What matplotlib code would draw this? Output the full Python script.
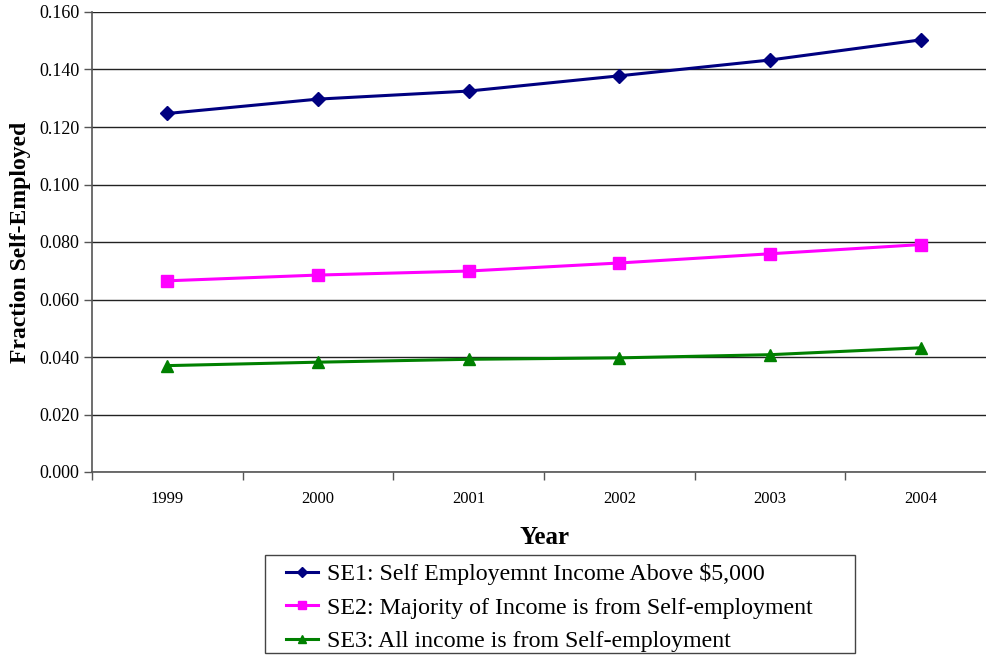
import matplotlib
matplotlib.use("Agg")
import matplotlib.pyplot as plt
import numpy as np
from matplotlib.ticker import FormatStrFormatter, FixedLocator
from matplotlib.patches import Rectangle

plt.rcParams['font.family'] = ['Liberation Serif', 'DejaVu Serif']

years = ["1999", "2000", "2001", "2002", "2003", "2004"]
se1 = [0.1247, 0.1297, 0.1325, 0.1378, 0.1433, 0.1503]
se2 = [0.0665, 0.0685, 0.0699, 0.0727, 0.0759, 0.0791]
se3 = [0.0370, 0.0382, 0.0392, 0.0397, 0.0408, 0.0432]
labels = ["SE1: Self Employemnt Income Above $5,000",
          "SE2: Majority of Income is from Self-employment",
          "SE3: All income is from Self-employment"]

fig = plt.figure(figsize=(9.87, 6.55), dpi=100)
W, H = 987, 655
left, right, top, bottom = 92, 996, 12, 472
ax = fig.add_axes([left / W, 1 - bottom / H, (right - left) / W, (bottom - top) / H])

x = np.arange(len(years))
ax.plot(x, se1, color='#000080', marker='D', markersize=7, linewidth=2.2, label=labels[0], zorder=3)
ax.plot(x, se2, color='#FF00FF', marker='s', markersize=8, linewidth=2.2, label=labels[1], zorder=3)
ax.plot(x, se3, color='#008000', marker='^', markersize=8, linewidth=2.2, label=labels[2], zorder=3)

ax.set_xlim(-0.5, len(years) - 0.5)
ax.set_ylim(0, 0.16)
ax.set_yticks(np.arange(0, 0.161, 0.02))
ax.yaxis.set_major_formatter(FormatStrFormatter('%.3f'))
ax.grid(axis='y', color='#222222', linewidth=1.0)
ax.set_axisbelow(True)

ax.set_xticks(x)
ax.set_xticklabels(years, fontsize=12)
ax.xaxis.set_minor_locator(FixedLocator(np.arange(-0.5, len(years), 1)))
ax.tick_params(axis='x', which='major', length=0, pad=14)
ax.tick_params(axis='x', which='minor', length=6, width=1, color='#555555', direction='out')
ax.tick_params(axis='y', length=6, width=1, color='#555555', labelsize=13, pad=3)

for s in ['top', 'right']:
    ax.spines[s].set_visible(False)
for s in ['left', 'bottom']:
    ax.spines[s].set_color('#555555')
    ax.spines[s].set_linewidth(1.2)

ax.set_ylabel('Fraction Self-Employed', fontsize=17, fontweight='bold', labelpad=6)
ax.set_xlabel('Year', fontsize=18, fontweight='bold', labelpad=13)

# legend box
fig.add_artist(Rectangle((265 / W, 1 - 653 / H), 590 / W, 98 / H, transform=fig.transFigure,
                         facecolor='white', edgecolor='#444444', linewidth=1.0, zorder=4))
leg = fig.legend(loc='upper left', bbox_to_anchor=(286 / W, 1 - 563 / H), fontsize=17.2,
                 frameon=False, handlelength=1.35, handletextpad=0.35, borderpad=0,
                 labelspacing=0.5, markerscale=0.7, borderaxespad=0)
leg.set_zorder(5)

fig.savefig('out.png', dpi=100)
